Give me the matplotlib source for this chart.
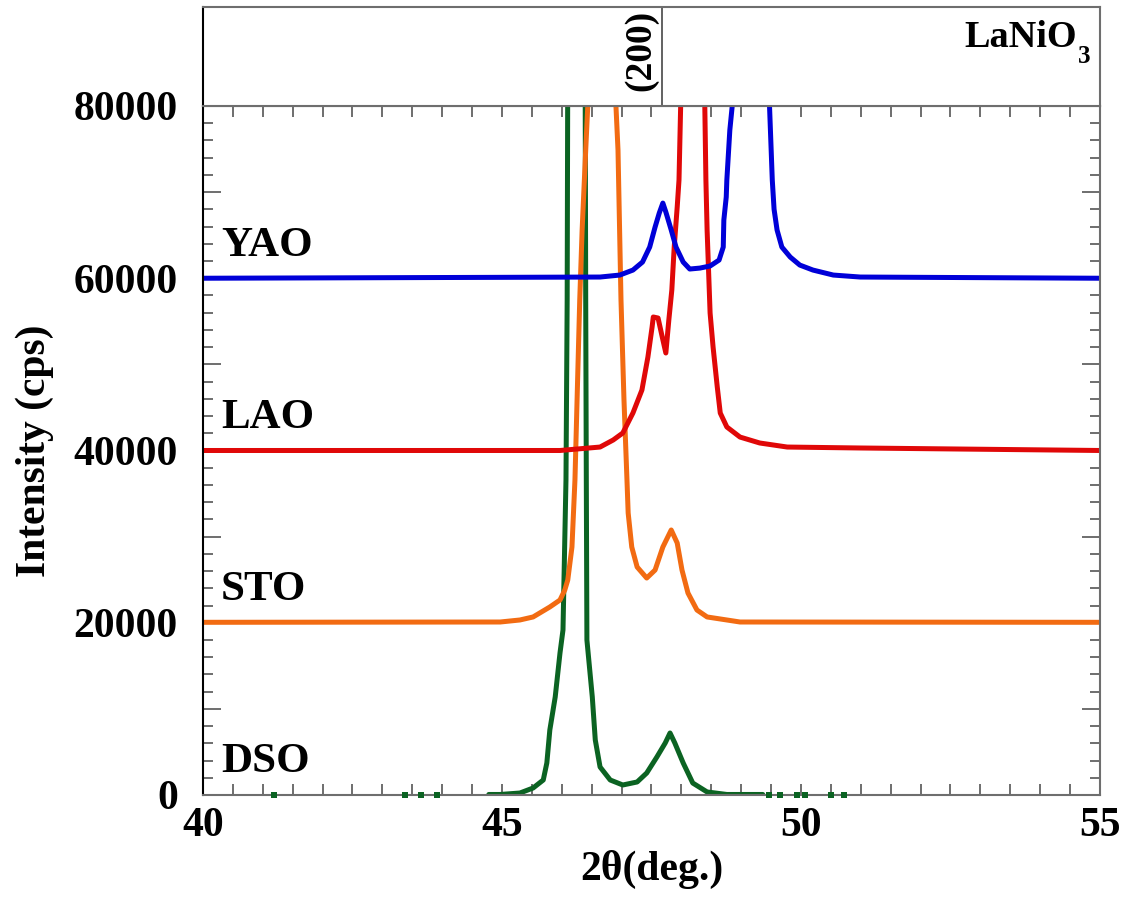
import matplotlib
matplotlib.use('Agg')
import matplotlib.pyplot as plt
from matplotlib.ticker import MultipleLocator

plt.rcParams['font.family'] = ['Liberation Serif', 'DejaVu Serif']
plt.rcParams['font.weight'] = 'bold'

# 2theta (deg) / counts (cps); substrate peaks go off scale
dso_x = [40.0, 44.75, 44.78, 44.97, 45.30, 45.52, 45.69, 45.75, 45.80, 45.89, 45.97,
         46.02, 46.07, 46.09, 46.10, 46.24, 46.39, 46.40, 46.41, 46.42, 46.51, 46.56,
         46.64, 46.81, 47.02, 47.26, 47.42, 47.59, 47.73, 47.81, 47.89, 48.03, 48.19,
         48.43, 48.76, 49.36, 49.40, 55.0]
dso_y = [-900, -900, 60, 60, 230, 810, 1740, 3720, 7550, 11380, 16490,
         19160, 36570, 57470, 85000, 800000, 85000, 57470, 36570, 18000, 11380, 6390,
         3250, 1740, 1160, 1510, 2550, 4410, 6040, 7200, 6040, 3720, 1390,
         350, 60, 60, -900, -900]
# isolated non-zero counts on the DSO background
dso_dots = [41.19, 43.38, 43.64, 43.91, 49.47, 49.65, 49.94, 50.06, 50.51, 50.72]

sto_x = [40.0, 44.97, 45.30, 45.52, 45.80, 45.97, 46.05, 46.10, 46.17, 46.22, 46.30,
         46.34, 46.40, 46.47, 46.68, 46.87, 46.94, 46.99, 47.04, 47.09, 47.11, 47.17,
         47.26, 47.42, 47.56, 47.69, 47.83, 47.93, 48.01, 48.11, 48.26, 48.43, 48.76,
         48.98, 55.0]
sto_y = [50, 85, 320, 670, 1830, 2640, 3800, 4960, 8790, 16570, 37470,
         45600, 54880, 65330, 300000, 65330, 54880, 37470, 25860, 16570, 12740, 8790,
         6470, 5190, 6120, 8790, 10770, 9260, 6120, 3450, 1480, 670, 320,
         85, 50]

lao_x = [40.0, 45.97, 46.64, 46.86, 47.02, 47.19, 47.34, 47.44, 47.51, 47.53, 47.61,
         47.68, 47.74, 47.79, 47.84, 47.88, 47.93, 47.96, 47.99, 48.18, 48.39, 48.41,
         48.43, 48.48, 48.53, 48.60, 48.65, 48.76, 48.98, 49.31, 49.77, 50.99, 55.0]
lao_y = [0, 0, 400, 1220, 2030, 4360, 7020, 10850, 14330, 15500, 15380,
         13170, 11320, 15150, 18630, 23620, 28270, 31400, 40690, 400000, 40690, 31400,
         25600, 15960, 12010, 7370, 4350, 2730, 1560, 870, 400, 290, 0]

yao_x = [40.0, 46.64, 46.97, 47.19, 47.35, 47.47, 47.56, 47.63, 47.69, 47.74, 47.83,
         47.91, 48.03, 48.14, 48.31, 48.48, 48.63, 48.70, 48.71, 48.75, 48.76, 48.81,
         48.86, 48.91, 49.17, 49.40, 49.47, 49.52, 49.55, 49.60, 49.68, 49.82, 49.98,
         50.20, 50.54, 50.99, 55.0]
yao_y = [0, 140, 370, 950, 1880, 3620, 5940, 7570, 8730, 7690, 5600,
         3620, 1880, 1070, 1180, 1420, 2110, 3620, 6760, 9430, 11400, 17200,
         20700, 25300, 400000, 25300, 20700, 11400, 8000, 5600, 3620, 2460, 1530,
         950, 370, 140, 0]

samples = ['DSO', 'STO', 'LAO', 'YAO']
offsets = [0, 20000, 40000, 60000]
colors = ['#0b6322', '#f26b12', '#e00808', '#0000d8']
curves = [(dso_x, dso_y), (sto_x, sto_y), (lao_x, lao_y), (yao_x, yao_y)]

peak_pos = 47.67   # LaNiO3 (200)

fig = plt.figure(figsize=(11.29, 8.99), dpi=100)
ax = fig.add_axes([0.1798, 0.1157, 0.7945, 0.7664])
top = fig.add_axes([0.1798, 0.8821, 0.7945, 0.1101])

for (x, y), off, c in zip(curves, offsets, colors):
    ax.plot(x, [v + off for v in y], color=c, lw=3.6, solid_joinstyle='round', zorder=2)
ax.scatter(dso_dots, [0] * len(dso_dots), marker='s', s=16, color=colors[0],
           linewidths=0, zorder=3, clip_on=False)

for name, off in zip(samples, offsets):
    ax.text(40.3, off + 3800, name, fontsize=31, fontweight='bold', va='center', ha='left')

ax.set_xlim(40, 55)
ax.set_ylim(0, 80000)
ax.xaxis.set_major_locator(MultipleLocator(5))
ax.xaxis.set_minor_locator(MultipleLocator(0.5))
ax.yaxis.set_minor_locator(MultipleLocator(2000))
ax.set_yticks([0, 10000, 20000, 30000, 40000, 50000, 60000, 70000, 80000])
ax.set_yticklabels(['0', '', '20000', '', '40000', '', '60000', '', '80000'])
ax.tick_params(axis='both', which='both', direction='in', top=True, right=True,
               color='#555555', width=1.2)
ax.tick_params(axis='x', which='both', length=8, labelsize=30, pad=9)
ax.tick_params(axis='y', which='major', length=13, labelsize=30, pad=18)
ax.tick_params(axis='y', which='minor', length=7)
for s in ['bottom', 'top', 'right']:
    ax.spines[s].set_color('#6e6e6e')
    ax.spines[s].set_linewidth(1.5)
ax.spines['left'].set_color('black')
ax.spines['left'].set_linewidth(1.5)

ax.set_xlabel('2θ(deg.)', fontsize=30, fontweight='bold', labelpad=3)
ax.set_ylabel('Intensity (cps)', fontsize=30, fontweight='bold', labelpad=14)

# reference panel with the LaNiO3 (200) position
top.set_xlim(40, 55)
top.set_ylim(0, 1)
top.axvline(peak_pos, color='#555555', lw=1.3)
top.text(peak_pos - 0.06, 0.97, '(200)', rotation=90, fontsize=27, fontweight='bold',
         ha='right', va='top', transform=top.get_xaxis_transform())
top.text(0.9744, 0.596, 'LaNiO', fontsize=27.5, fontweight='bold', ha='right',
         va='baseline', transform=top.transAxes)
top.text(0.9755, 0.434, '3', fontsize=18, fontweight='bold', ha='left',
         va='baseline', transform=top.transAxes)
top.set_xticks([])
top.set_yticks([])
for s in top.spines.values():
    s.set_color('#6e6e6e')
    s.set_linewidth(1.5)
top.spines['left'].set_color('black')

fig.savefig('out.png', dpi=100)
